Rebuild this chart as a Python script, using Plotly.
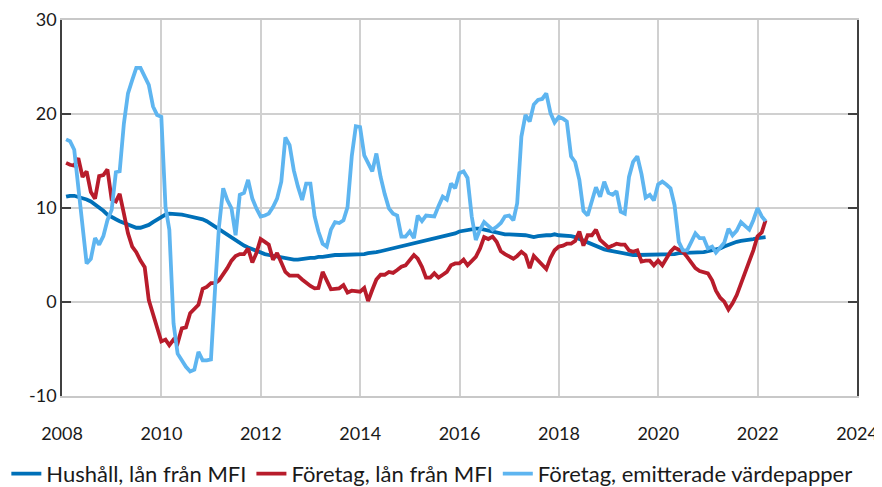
import pandas as pd
import plotly.graph_objects as go

start_month = "2008-01-31"

hushall = [
    11.2, 11.3, 11.3, 11.2, 11.1, 10.9, 10.7, 10.4, 10.1, 9.7, 9.3, 9.0,
    8.8, 8.6, 8.4, 8.2, 8.1, 7.9, 7.9, 8.0, 8.2, 8.5, 8.8, 9.1,
    9.3, 9.4, 9.4, 9.4, 9.3, 9.2, 9.1, 9.0, 8.9, 8.8, 8.6, 8.3,
    8.0, 7.7, 7.5, 7.2, 6.9, 6.6, 6.3, 6.0, 5.8, 5.6, 5.4, 5.2,
    5.1, 5.0, 4.9, 4.8, 4.7, 4.6, 4.5, 4.5, 4.5, 4.6, 4.6, 4.7,
    4.7, 4.8, 4.8, 4.9, 4.9, 5.0, 5.0, 5.0, 5.0, 5.1, 5.1, 5.1,
    5.1, 5.2, 5.2, 5.3, 5.4, 5.5, 5.6, 5.7, 5.8, 6.0, 6.1, 6.2,
    6.3, 6.4, 6.5, 6.6, 6.7, 6.8, 6.9, 7.0, 7.1, 7.2, 7.3, 7.5,
    7.6, 7.6, 7.7, 7.8, 7.8, 7.7, 7.6, 7.5, 7.4, 7.3, 7.2, 7.2,
    7.2, 7.2, 7.1, 7.1, 7.0, 6.9, 7.0, 7.1, 7.1, 7.1, 7.2, 7.1,
    7.1, 7.0, 7.0, 6.9, 6.7, 6.5, 6.3, 6.1, 5.9, 5.7, 5.6, 5.5,
    5.4, 5.3, 5.2, 5.1, 5.1, 5.0, 5.0, 5.0, 5.0, 5.0, 5.0, 5.1,
    5.1, 5.1, 5.1, 5.1, 5.2, 5.2, 5.2, 5.2, 5.3, 5.3, 5.3, 5.4,
    5.5, 5.6, 5.7, 5.9, 6.1, 6.3, 6.4, 6.5, 6.6, 6.7, 6.7, 6.8,
    6.8, 6.9,
]

foretag_lan = [
    14.8, 14.6, 14.5, 15.3, 13.3, 13.9, 11.7, 11.0, 13.4, 13.5, 14.1, 10.9,
    10.7, 11.5, 9.4, 7.3, 5.9, 5.3, 4.4, 3.7, 0.2, -1.2, -2.6, -4.2,
    -4.0, -4.6, -4.0, -4.4, -2.8, -2.7, -1.2, -0.8, -0.3, 1.4, 1.6, 2.0,
    2.0, 2.3, 2.9, 3.6, 4.4, 4.9, 5.1, 5.1, 5.7, 4.2, 5.2, 6.7,
    6.4, 6.1, 4.5, 5.2, 4.2, 3.2, 2.8, 2.8, 2.8, 2.4, 2.0, 1.7,
    1.45, 1.5, 3.2, 2.2, 1.35, 1.4, 1.45, 1.8, 1.0, 1.2, 1.2, 1.1,
    1.5, 0.1, 1.3, 2.4, 2.9, 2.9, 3.2, 3.1, 3.4, 3.75, 3.9, 4.5,
    5.0, 4.6, 3.75, 2.6, 2.6, 3.05, 2.6, 2.9, 3.2, 3.9, 4.1, 4.1,
    4.5, 3.9, 4.3, 4.8, 5.7, 6.9, 6.7, 6.95, 6.4, 5.4, 5.1, 4.8,
    4.6, 4.9, 5.35, 5.0, 3.6, 4.9, 4.4, 3.9, 3.5, 4.7, 5.5, 5.9,
    6.0, 6.2, 6.2, 6.5, 7.5, 6.0, 7.1, 7.1, 7.7, 6.6, 6.2, 5.8,
    6.0, 6.2, 6.1, 6.1, 5.5, 5.35, 5.5, 4.3, 4.4, 4.4, 3.9, 4.4,
    3.9, 4.6, 5.35, 5.8, 5.6, 5.35, 4.8, 4.1, 3.6, 3.3, 3.2, 3.05,
    2.3, 1.2, 0.46, 0.04, -0.8, -0.14, 0.74, 2.0, 3.2, 4.2, 5.5, 7.0,
    7.4, 8.7,
]

foretag_vp = [
    17.3, 17.1, 16.2, 12.0, 8.0, 4.1, 4.6, 6.8, 6.1, 7.0, 8.7, 9.8,
    13.8, 13.9, 19.0, 22.2, 23.6, 24.9, 24.9, 24.0, 23.1, 20.8, 19.9, 19.7,
    10.1, 7.7, -2.3, -5.5, -6.3, -6.9, -7.4, -7.2, -5.3, -6.2, -6.2, -6.1,
    1.6, 8.0, 12.1, 10.85, 9.96, 7.1, 11.4, 11.6, 13.0, 11.0, 9.96, 9.1,
    9.2, 9.4, 10.1, 11.0, 12.8, 17.5, 16.7, 14.0, 12.3, 10.85, 12.6, 12.6,
    9.1, 7.5, 6.2, 5.9, 7.7, 8.5, 8.4, 8.7, 10.1, 15.5, 18.7, 18.6,
    15.6, 14.8, 13.9, 15.8, 13.3, 11.5, 9.96, 9.4, 9.2, 6.95, 6.95, 7.5,
    6.8, 9.2, 8.6, 9.2, 9.1, 9.1, 10.2, 11.2, 10.9, 12.6, 12.1, 13.7,
    13.9, 13.2, 9.1, 6.6, 7.7, 8.5, 8.1, 7.7, 8.0, 8.4, 9.1, 9.2,
    8.7, 10.5, 17.6, 19.9, 19.2, 21.0, 21.5, 21.6, 22.2, 20.1, 19.1, 19.7,
    19.5, 19.2, 15.5, 14.9, 13.0, 9.7, 9.2, 10.85, 12.2, 11.2, 12.8, 11.6,
    11.4, 11.8, 9.6, 9.4, 13.3, 14.9, 15.5, 13.6, 11.1, 11.4, 10.8, 12.5,
    12.8, 12.5, 12.1, 10.3, 6.4, 5.5, 5.5, 6.4, 7.3, 6.8, 6.8, 5.7,
    5.9, 5.25, 5.8, 6.3, 7.8, 7.1, 7.6, 8.5, 8.1, 7.7, 8.7, 10.0,
    9.1, 8.6,
]

series_names = [
    "Hushåll, lån från MFI",
    "Företag, lån från MFI",
    "Företag, emitterade värdepapper",
]
series_colors = ["#0070b8", "#b81c2b", "#5eb5f0"]
year_ticks = ["2008", "2010", "2012", "2014", "2016", "2018", "2020", "2022", "2024"]
y_ticks = [-10, 0, 10, 20, 30]
y_tick_text = ["-10", "0", "10", "20", "30"]

FONT = "Lato, 'Open Sans', 'Noto Sans', sans-serif"

fig = go.Figure()
for name, vals, col in zip(series_names, [hushall, foretag_lan, foretag_vp], series_colors):
    dates = pd.date_range(start_month, periods=len(vals), freq="ME")
    fig.add_trace(go.Scatter(
        x=dates, y=vals, mode="lines", name=name,
        line=dict(color=col, width=3.8),
    ))

# the page body adds an 8px offset, so the figure is 8px smaller on each axis
fig.update_layout(
    width=874, height=479,
    margin=dict(l=54, r=25, t=12, b=91, autoexpand=False),
    paper_bgcolor="white", plot_bgcolor="white",
    font=dict(family=FONT, size=18, color="#1a1a1a"),
    showlegend=True,
    legend=dict(
        orientation="h", xref="paper", yref="paper",
        x=-0.070, y=-0.207, xanchor="left", yanchor="middle",
        font=dict(size=22), itemwidth=30, tracegroupgap=0,
    ),
)
fig.update_xaxes(
    type="date",
    range=["2008-01-01", "2024-01-01"],
    tickvals=[f"{y}-01-01" for y in year_ticks],
    ticktext=year_ticks,
    showgrid=True, gridcolor="#d0d0d0", gridwidth=1.5,
    showline=True, linecolor="#c8c8c8", linewidth=1.5, mirror=True,
    ticks="", ticklabelstandoff=21,
)
fig.update_yaxes(
    range=[-10, 30],
    tickvals=y_ticks, ticktext=y_tick_text,
    showgrid=True, gridcolor="#d0d0d0", gridwidth=1.5, zeroline=False,
    showline=True, linecolor="#404040", linewidth=1.5, mirror="ticks",
    ticks="inside", ticklen=9, tickcolor="#404040", tickwidth=1.5,
)

fig.write_html("out.html")
